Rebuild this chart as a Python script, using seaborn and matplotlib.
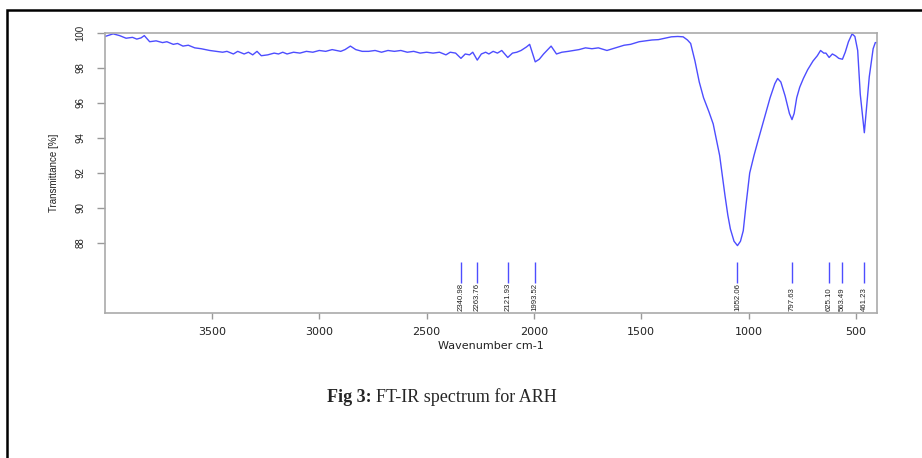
import matplotlib
matplotlib.use("Agg")
import matplotlib.pyplot as plt
from matplotlib.patches import Rectangle
import seaborn as sns
import pandas as pd

# -------------------------------------
# data
# -------------------------------------
wavenumber = [3998, 3960, 3930, 3900, 3870, 3850, 3830, 3815, 3790, 3760, 3730, 3710,
              3680, 3660, 3635, 3610, 3580, 3550, 3510, 3480, 3450, 3430, 3400, 3380,
              3350, 3330, 3310, 3290, 3270, 3240, 3210, 3190, 3170, 3150, 3120, 3090,
              3060, 3030, 3000, 2970, 2940, 2900, 2880, 2855, 2830, 2800, 2770, 2740,
              2710, 2680, 2650, 2620, 2590, 2560, 2530, 2500, 2470, 2440, 2410, 2390,
              2365, 2340, 2320, 2300, 2285, 2264, 2245, 2225, 2210, 2190, 2170, 2150,
              2122, 2100, 2080, 2060, 2035, 2020, 1994, 1975, 1955, 1920, 1895, 1870,
              1840, 1815, 1790, 1760, 1730, 1700, 1660, 1620, 1580, 1550, 1510, 1480,
              1450, 1420, 1390, 1360, 1330, 1305, 1285, 1270, 1250, 1230, 1210, 1185,
              1165, 1150, 1135, 1122, 1110, 1097, 1085, 1068, 1052, 1038, 1025, 1012,
              995, 975, 955, 930, 900, 878, 865, 850, 830, 810, 798, 788, 776, 762,
              745, 725, 700, 680, 665, 650, 640, 625, 610, 595, 580, 563, 550, 535,
              518, 505, 492, 480, 461, 450, 438, 420, 410, 402]
transmittance = [99.80, 99.95, 99.85, 99.70, 99.75, 99.65, 99.72, 99.85, 99.50, 99.55, 99.45, 99.50,
                 99.35, 99.40, 99.25, 99.30, 99.15, 99.10, 99.00, 98.95, 98.90, 98.95, 98.80, 98.95,
                 98.80, 98.90, 98.75, 98.95, 98.70, 98.75, 98.85, 98.80, 98.90, 98.80, 98.90, 98.85,
                 98.95, 98.90, 99.00, 98.95, 99.05, 98.95, 99.05, 99.25, 99.05, 98.95, 98.95, 99.00,
                 98.90, 99.00, 98.95, 99.00, 98.90, 98.95, 98.85, 98.90, 98.85, 98.90, 98.75, 98.90,
                 98.85, 98.55, 98.80, 98.75, 98.90, 98.45, 98.80, 98.90, 98.80, 98.95, 98.85, 99.00,
                 98.60, 98.85, 98.90, 99.00, 99.20, 99.35, 98.35, 98.50, 98.80, 99.25, 98.80, 98.90,
                 98.95, 99.00, 99.05, 99.15, 99.10, 99.15, 99.00, 99.15, 99.30, 99.35, 99.50, 99.55,
                 99.60, 99.62, 99.70, 99.78, 99.80, 99.78, 99.60, 99.40, 98.40, 97.20, 96.30, 95.50,
                 94.80, 93.90, 93.00, 91.80, 90.70, 89.60, 88.80, 88.10, 87.85, 88.10, 88.70, 90.20,
                 92.00, 93.00, 93.90, 95.00, 96.30, 97.10, 97.40, 97.20, 96.40, 95.40, 95.05, 95.40,
                 96.30, 96.90, 97.40, 97.90, 98.40, 98.70, 99.00, 98.85, 98.85, 98.60, 98.80, 98.70,
                 98.55, 98.50, 98.90, 99.50, 99.95, 99.80, 99.00, 96.50, 94.30, 95.80, 97.50, 99.10,
                 99.45, 99.45]

peak_positions = [2340.98, 2263.76, 2121.93, 1993.52, 1052.06, 797.63, 625.10, 563.49, 461.23]
peak_labels = ["2340.98", "2263.76", "2121.93", "1993.52", "1052.06", "797.63", "625.10", "563.49", "461.23"]

x_ticks = [3500, 3000, 2500, 2000, 1500, 1000, 500]
y_ticks = [88, 90, 92, 94, 96, 98, 100]

df = pd.DataFrame({"wn": wavenumber, "T": transmittance})

sns.set_style("white")
plt.rcParams["font.family"] = ["Liberation Sans", "DejaVu Sans"]

fig = plt.figure(figsize=(9.22, 4.58), dpi=100)
ax = fig.add_axes([0.1139, 0.3166, 0.8373, 0.6114])

line_col = "#4d4dff"
sns.lineplot(data=df, x="wn", y="T", ax=ax, color=line_col, lw=1.0,
             sort=False, estimator=None)

# peak markers
ax.vlines(peak_positions, 85.7, 86.9, color=line_col, lw=1.0)
for pos, lab in zip(peak_positions, peak_labels):
    ax.text(pos, 84.1, lab, rotation=90, ha="center", va="bottom",
            fontsize=5.6, color="#222222")

ax.set_xlim(3998, 402)
ax.set_ylim(84, 100)
ax.set_xticks(x_ticks)
ax.set_xticklabels([str(t) for t in x_ticks], family="DejaVu Sans", fontsize=8, color="#222222")
ax.set_yticks(y_ticks)
ax.set_yticklabels([str(t) for t in y_ticks], rotation=90, va="center", fontsize=7, color="#222222")
ax.tick_params(axis="x", bottom=True, length=4, width=1, color="#999999", pad=6)
ax.tick_params(axis="y", left=True, length=6, width=1, color="#999999", pad=8)
for sp in ax.spines.values():
    sp.set_color("#aaaaaa")
    sp.set_linewidth(1.2)

ax.set_xlabel("Wavenumber cm-1", family="DejaVu Sans", fontsize=8, color="#222222", labelpad=3)
ax.set_ylabel("Transmittance [%]", fontsize=7, color="#222222", labelpad=12)

# outer frame of the figure box
fig.add_artist(Rectangle((7 / 922, -0.2), 1.2, 1.2 - 10 / 458, transform=fig.transFigure,
                         fill=False, edgecolor="black", lw=1.8))

# caption: bold prefix, then regular text
t1 = fig.text(327 / 922, 1 - 397 / 458, "Fig 3:", family="Liberation Serif",
              weight="bold", fontsize=13, ha="left", va="center")
fig.canvas.draw()
bb = t1.get_window_extent(renderer=fig.canvas.get_renderer())
fig.text(bb.x1 / fig.bbox.width + 4 / 922, 1 - 397 / 458, "FT-IR spectrum for ARH",
         family="Liberation Serif", fontsize=13, ha="left", va="center")

fig.savefig("out.png", dpi=100)
